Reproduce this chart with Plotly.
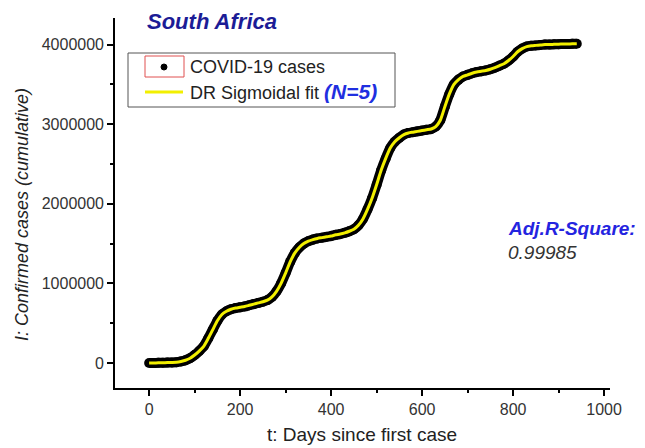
import plotly.graph_objects as go

# Days since first case (every 10 days)
days = list(range(0, 950, 10))

# Cumulative confirmed cases (millions)
cases_m = [
    0.0, 0.001, 0.002, 0.003, 0.005, 0.007, 0.01, 0.02, 0.035, 0.06,
    0.10, 0.15, 0.21, 0.31, 0.42, 0.53, 0.61, 0.65, 0.675, 0.69,
    0.70, 0.71, 0.725, 0.74, 0.755, 0.77, 0.79, 0.83, 0.90, 1.00,
    1.13, 1.27, 1.38, 1.45, 1.50, 1.53, 1.55, 1.565, 1.575, 1.585,
    1.595, 1.61, 1.62, 1.635, 1.655, 1.68, 1.73, 1.81, 1.93, 2.07,
    2.24, 2.42, 2.57, 2.70, 2.78, 2.83, 2.87, 2.89, 2.90, 2.91,
    2.92, 2.93, 2.94, 2.97, 3.05, 3.22, 3.38, 3.50, 3.56, 3.60,
    3.62, 3.64, 3.655, 3.665, 3.675, 3.69, 3.71, 3.735, 3.76, 3.80,
    3.85, 3.91, 3.95, 3.975, 3.985, 3.99, 3.995, 4.0, 4.0, 4.003,
    4.005, 4.007, 4.008, 4.009, 4.01,
]
cases = [v * 1e6 for v in cases_m]
fit = list(cases)

x_ticks = [0, 200, 400, 600, 800, 1000]
y_ticks = [0, 1000000, 2000000, 3000000, 4000000]

FONT = "Liberation Sans, Arial, sans-serif"

fig = go.Figure()
fig.add_trace(go.Scatter(
    x=days, y=cases, mode="lines+markers",
    line=dict(color="black", width=10, shape="spline", smoothing=0.6),
    marker=dict(color="black", size=10),
    name="COVID-19 cases", showlegend=False, hoverinfo="skip",
))
fig.add_trace(go.Scatter(
    x=days, y=fit, mode="lines",
    line=dict(color="#f2ef00", width=3, shape="spline", smoothing=0.6),
    name="DR Sigmoidal fit", showlegend=False, hoverinfo="skip",
))

L, R, T, B = 115, 35, 18, 60
W, H = 645, 448
pw, ph = W - L - R, H - T - B

def px(x):
    return (x - L) / pw

def py(y):
    return (H - B - y) / ph

axis_common = dict(
    showline=True, linecolor="black", linewidth=1.6, mirror=False,
    showgrid=False, zeroline=False, ticks="outside", ticklen=6,
    tickwidth=1.5, tickcolor="black",
    tickfont=dict(family=FONT, size=16, color="#333333"),
)

fig.update_xaxes(
    range=[-75, 1013], tickvals=x_ticks, ticktext=[str(v) for v in x_ticks],
    minor=dict(ticks="outside", ticklen=3, tickwidth=1.5, tickcolor="black", dtick=100, tick0=0),
    **axis_common,
)
fig.update_yaxes(
    range=[-314000, 4334000], tickvals=y_ticks, ticktext=[str(v) for v in y_ticks],
    minor=dict(ticks="outside", ticklen=3, tickwidth=1.5, tickcolor="black", dtick=500000, tick0=0),
    **axis_common,
)

shapes = [
    dict(type="rect", xref="paper", yref="paper", x0=px(128), x1=px(395), y0=py(107), y1=py(53),
         line=dict(color="#555555", width=1), fillcolor="white", layer="above"),
    dict(type="rect", xref="paper", yref="paper", x0=px(145), x1=px(184), y0=py(77), y1=py(56),
         line=dict(color="#e05050", width=1), layer="above"),
    dict(type="circle", xref="paper", yref="paper", x0=px(161), x1=px(167), y0=py(70), y1=py(64),
         line=dict(color="black", width=1), fillcolor="black", layer="above"),
    dict(type="line", xref="paper", yref="paper", x0=px(145), x1=px(183), y0=py(92), y1=py(92),
         line=dict(color="#f2ef00", width=3), layer="above"),
]

annotations = [
    dict(text="<b><i>South Africa</i></b>", x=px(145), y=py(21), xref="paper", yref="paper",
         xanchor="left", yanchor="middle", showarrow=False,
         font=dict(family=FONT, size=22, color="#1c1c96")),
    dict(text="COVID-19 cases", x=px(188), y=py(67), xref="paper", yref="paper",
         xanchor="left", yanchor="middle", showarrow=False,
         font=dict(family=FONT, size=18, color="#222222")),
    dict(text="DR Sigmoidal fit <span style='color:#1f2fe0;font-size:21px'><b><i>(N=5)</i></b></span>",
         x=px(188), y=py(92), xref="paper", yref="paper",
         xanchor="left", yanchor="middle", showarrow=False,
         font=dict(family=FONT, size=18, color="#222222")),
    dict(text="<b><i>Adj.R-Square:</i></b>", x=px(506), y=py(229), xref="paper", yref="paper",
         xanchor="left", yanchor="middle", showarrow=False,
         font=dict(family=FONT, size=19, color="#2424e0")),
    dict(text="<i>0.99985</i>", x=px(506), y=py(252), xref="paper", yref="paper",
         xanchor="left", yanchor="middle", showarrow=False,
         font=dict(family=FONT, size=19, color="#333333")),
    dict(text="t: Days since first case", x=px(362), y=py(434), xref="paper", yref="paper",
         xanchor="center", yanchor="middle", showarrow=False,
         font=dict(family=FONT, size=19, color="#222222")),
    dict(text="<i>I: Confirmed cases (cumulative)</i>", x=px(22), y=py(215), xref="paper", yref="paper",
         xanchor="center", yanchor="middle", showarrow=False, textangle=-90,
         font=dict(family=FONT, size=18, color="#222222")),
]

fig.update_layout(
    width=W, height=H,
    margin=dict(l=L, r=R, t=T, b=B, pad=0),
    paper_bgcolor="white", plot_bgcolor="white",
    shapes=shapes, annotations=annotations,
    showlegend=False,
)

fig.write_html("out.html", config={"displayModeBar": False},
               post_script="document.body.style.margin='0';")
